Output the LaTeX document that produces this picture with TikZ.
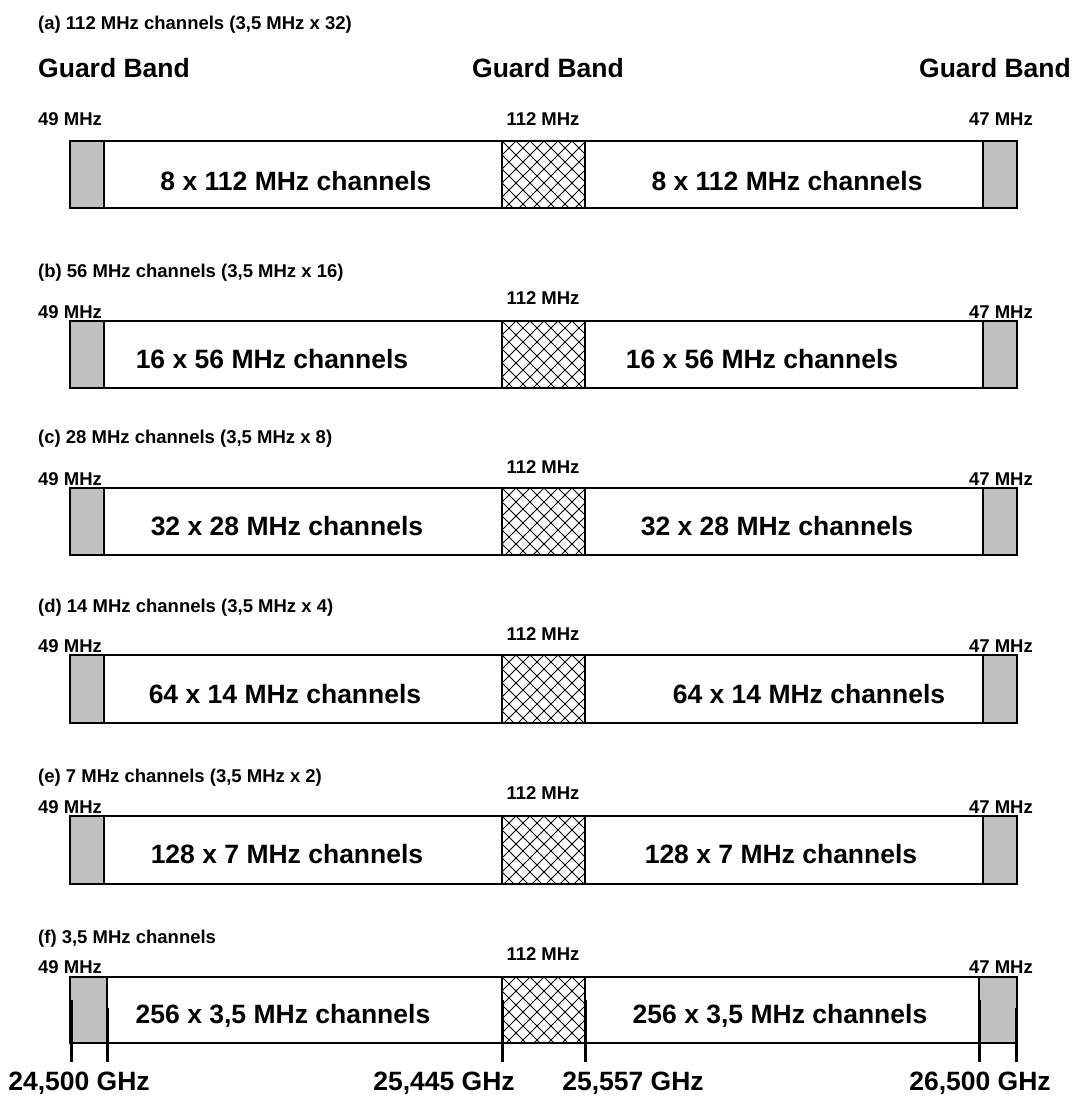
\documentclass[tikz,border=0pt]{standalone}
\usepackage{fontspec}
\setmainfont{Liberation Sans}
\definecolor{gband}{HTML}{C0C0C0}
\tikzset{
  smalltxt/.style={font=\fontsize{18.5}{20}\selectfont\bfseries, anchor=base, inner sep=0pt},
  bigtxt/.style={font=\fontsize{26.5}{30}\selectfont\bfseries, anchor=base, inner sep=0pt},
  outline/.style={draw=black, line width=2pt},
  gbox/.style={draw=black, fill=gband, line width=2pt},
  hatchline/.style={draw=black, line width=0.9pt},
  tickmark/.style={draw=black, line width=3pt}
}
\newcommand{\hatchbox}[2]{%
  \fill[white] (502,#1) rectangle (585,#2);
  \begin{scope}
    \clip (502,#1) rectangle (585,#2);
    \foreach \k in {-6,...,12}{
      \draw[hatchline] ({502+\k*14},#1) -- ++(90,90);
      \draw[hatchline] ({502+\k*14},#1) -- ++(-90,90);
    }
  \end{scope}
  \draw[black, line width=2pt] (502,#1) rectangle (585,#2);
}
% #1 id, #2 top, #3 bottom, #4 caption baseline, #5 caption, #6 49/47 baseline, #7 112 baseline
\newcommand{\bandrow}[7]{%
  \node[smalltxt, anchor=base west] (cap#1) at (38,#4) {#5};
  \node[smalltxt, anchor=base west] (lo#1) at (38,#6) {49 MHz};
  \node[smalltxt, anchor=base east] (hi#1) at (1033,#6) {47 MHz};
  \node[smalltxt] (mid#1) at (543,#7) {112 MHz};
  \draw[outline] (70,#2) rectangle (1017,#3);
  \draw[gbox] (70,#2) rectangle (104,#3);
  \draw[gbox] (983,#2) rectangle (1017,#3);
  \hatchbox{#2}{#3}
}
\begin{document}
\begin{tikzpicture}[x=1pt,y=-1pt]
\useasboundingbox (0,0) rectangle (1074,1097);
\fill[white] (0,0) rectangle (1074,1097);

% Row (a)
\bandrow{a}{141}{208}{30}{(a) 112 MHz channels (3,5 MHz x 32)}{126}{126}
\node[bigtxt, anchor=base west] (gb1) at (38,78) {Guard Band};
\node[bigtxt] (gb2) at (548,78) {Guard Band};
\node[bigtxt, anchor=base east] (gb3) at (1071,78) {Guard Band};
\node[bigtxt] (cha1) at (296,190) {8 x 112 MHz channels};
\node[bigtxt] (cha2) at (787,190) {8 x 112 MHz channels};

% Row (b)
\bandrow{b}{321}{388}{277}{(b) 56 MHz channels (3,5 MHz x 16)}{318}{304}
\node[bigtxt] (chb1) at (272,368) {16 x 56 MHz channels};
\node[bigtxt] (chb2) at (762,368) {16 x 56 MHz channels};

% Row (c)
\bandrow{c}{488}{555}{443}{(c) 28 MHz channels (3,5 MHz x 8)}{485}{473}
\node[bigtxt] (chc1) at (287,535) {32 x 28 MHz channels};
\node[bigtxt] (chc2) at (777,535) {32 x 28 MHz channels};

% Row (d)
\bandrow{d}{655}{723}{612}{(d) 14 MHz channels (3,5 MHz x 4)}{652}{640}
\node[bigtxt] (chd1) at (285,703) {64 x 14 MHz channels};
\node[bigtxt] (chd2) at (809,703) {64 x 14 MHz channels};

% Row (e)
\bandrow{e}{816}{884}{782}{(e) 7 MHz channels (3,5 MHz x 2)}{813}{799}
\node[bigtxt] (che1) at (287,863) {128 x 7 MHz channels};
\node[bigtxt] (che2) at (781,863) {128 x 7 MHz channels};

% Row (f)
\node[smalltxt, anchor=base west] (capf) at (38,943) {(f) 3,5 MHz channels};
\node[smalltxt, anchor=base west] (lof) at (38,973) {49 MHz};
\node[smalltxt, anchor=base east] (hif) at (1033,973) {47 MHz};
\node[smalltxt] (midf) at (543,960) {112 MHz};
\draw[outline] (70,977) rectangle (1017,1043);
\draw[gband, fill=gband] (70,977) rectangle (107,1043);
\draw[gband, fill=gband] (979,977) rectangle (1017,1043);
\draw[black, line width=1.2pt] (70,977) -- (107,977) -- (107,1043) -- (70,1043) -- cycle;
\draw[black, line width=1.2pt] (979,977) -- (1017,977) -- (1017,1043) -- (979,1043) -- cycle;
\hatchbox{977}{1043}
\node[bigtxt] (chf1) at (283,1023) {256 x 3,5 MHz channels};
\node[bigtxt] (chf2) at (780,1023) {256 x 3,5 MHz channels};

% ticks
\coordinate (t1a) at (71,1000);  \coordinate (t1b) at (71,1062);
\coordinate (t2a) at (107,1008); \coordinate (t2b) at (107,1062);
\coordinate (t3a) at (502,1000); \coordinate (t3b) at (502,1062);
\coordinate (t4a) at (585,1000); \coordinate (t4b) at (585,1062);
\coordinate (t5a) at (979,1000); \coordinate (t5b) at (979,1062);
\coordinate (t6a) at (1016,1008); \coordinate (t6b) at (1016,1062);
\foreach \i in {1,...,6}{ \draw[tickmark] (t\i a) -- (t\i b); }

% frequency labels
\node[bigtxt] (f1) at (79,1090) {24,500 GHz};
\node[bigtxt] (f2) at (444,1090) {25,445 GHz};
\node[bigtxt] (f3) at (633,1090) {25,557 GHz};
\node[bigtxt] (f4) at (980,1090) {26,500 GHz};
\end{tikzpicture}
\end{document}
